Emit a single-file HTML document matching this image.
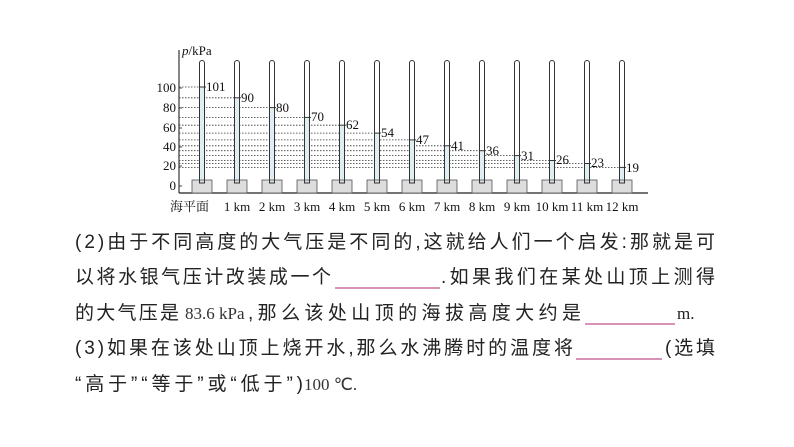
<!DOCTYPE html>
<html><head><meta charset="utf-8"><style>
html,body{margin:0;padding:0;background:#fff;}
svg{display:block;}
.t{font-family:"Liberation Sans","Noto Sans CJK SC",sans-serif;font-size:19px;fill:#222;}
.s{font-family:"Liberation Serif","Noto Serif CJK SC",serif;font-size:13px;fill:#111;}
</style></head><body>
<svg width="794" height="447" viewBox="0 0 794 447" xmlns="http://www.w3.org/2000/svg">
<defs>
<g id="base"><rect x="-10" y="180" width="20" height="13" fill="#ddd" stroke="#555" stroke-width="0.8"/></g>
<path id="tube" d="M-2.5 183 V63 a2.5 2.5 0 0 1 5 0 V183 Z" fill="none" stroke="#333" stroke-width="1"/>
</defs>
<line x1="179" y1="50" x2="179" y2="193" stroke="#444" stroke-width="1.3"/>
<line x1="179" y1="193" x2="648" y2="193" stroke="#222" stroke-width="1.3"/>
<text x="182" y="55" class="s" font-size="14"><tspan font-style="italic">p</tspan>/kPa</text>
<g class="s" text-anchor="end">
<text x="176" y="92">100</text><text x="176" y="112">80</text><text x="176" y="132">60</text>
<text x="176" y="151">40</text><text x="176" y="170">20</text><text x="176" y="190">0</text>
</g>
<g stroke="#444" stroke-width="1">
<line x1="179" y1="88" x2="182" y2="88"/><line x1="179" y1="108" x2="182" y2="108"/><line x1="179" y1="128" x2="182" y2="128"/><line x1="179" y1="147" x2="182" y2="147"/><line x1="179" y1="166" x2="182" y2="166"/><line x1="179" y1="186" x2="182" y2="186"/>
</g>
<g stroke="#333" stroke-width="0.8" stroke-dasharray="1.5,1.5">
<line x1="179" y1="87" x2="199" y2="87"/>
<line x1="179" y1="97.8" x2="234" y2="97.8"/>
<line x1="179" y1="107.6" x2="269" y2="107.6"/>
<line x1="179" y1="117.4" x2="304" y2="117.4"/>
<line x1="179" y1="125.2" x2="339" y2="125.2"/>
<line x1="179" y1="133.1" x2="374" y2="133.1"/>
<line x1="179" y1="139.9" x2="409" y2="139.9"/>
<line x1="179" y1="145.8" x2="444" y2="145.8"/>
<line x1="179" y1="150.7" x2="479" y2="150.7"/>
<line x1="179" y1="155.6" x2="514" y2="155.6"/>
<line x1="179" y1="160.5" x2="549" y2="160.5"/>
<line x1="179" y1="163.5" x2="584" y2="163.5"/>
<line x1="179" y1="167.4" x2="619" y2="167.4"/>
</g>
<g fill="#dfeef2">
<rect x="199.5" y="87" width="5" height="96"/>
<rect x="234.5" y="97.8" width="5" height="85.2"/>
<rect x="269.5" y="107.6" width="5" height="75.4"/>
<rect x="304.5" y="117.4" width="5" height="65.6"/>
<rect x="339.5" y="125.2" width="5" height="57.8"/>
<rect x="374.5" y="133.1" width="5" height="49.9"/>
<rect x="409.5" y="139.9" width="5" height="43.1"/>
<rect x="444.5" y="145.8" width="5" height="37.2"/>
<rect x="479.5" y="150.7" width="5" height="32.3"/>
<rect x="514.5" y="155.6" width="5" height="27.4"/>
<rect x="549.5" y="160.5" width="5" height="22.5"/>
<rect x="584.5" y="163.5" width="5" height="19.5"/>
<rect x="619.5" y="167.4" width="5" height="15.6"/>
</g>
<use href="#base" x="202"/><use href="#base" x="237"/><use href="#base" x="272"/><use href="#base" x="307"/><use href="#base" x="342"/><use href="#base" x="377"/><use href="#base" x="412"/><use href="#base" x="447"/><use href="#base" x="482"/><use href="#base" x="517"/><use href="#base" x="552"/><use href="#base" x="587"/><use href="#base" x="622"/>
<use href="#tube" x="202"/><use href="#tube" x="237"/><use href="#tube" x="272"/><use href="#tube" x="307"/><use href="#tube" x="342"/><use href="#tube" x="377"/><use href="#tube" x="412"/><use href="#tube" x="447"/><use href="#tube" x="482"/><use href="#tube" x="517"/><use href="#tube" x="552"/><use href="#tube" x="587"/><use href="#tube" x="622"/>
<g stroke="#333" stroke-width="1">
<line x1="199.5" y1="87" x2="206" y2="87"/>
<line x1="234.5" y1="97.8" x2="241" y2="97.8"/>
<line x1="269.5" y1="107.6" x2="276" y2="107.6"/>
<line x1="304.5" y1="117.4" x2="311" y2="117.4"/>
<line x1="339.5" y1="125.2" x2="346" y2="125.2"/>
<line x1="374.5" y1="133.1" x2="381" y2="133.1"/>
<line x1="409.5" y1="139.9" x2="416" y2="139.9"/>
<line x1="444.5" y1="145.8" x2="451" y2="145.8"/>
<line x1="479.5" y1="150.7" x2="486" y2="150.7"/>
<line x1="514.5" y1="155.6" x2="521" y2="155.6"/>
<line x1="549.5" y1="160.5" x2="556" y2="160.5"/>
<line x1="584.5" y1="163.5" x2="591" y2="163.5"/>
<line x1="619.5" y1="167.4" x2="626" y2="167.4"/>
</g>
<g class="s" font-size="14">
<text x="206" y="91">101</text>
<text x="241" y="102">90</text>
<text x="276" y="112">80</text>
<text x="311" y="121">70</text>
<text x="346" y="129">62</text>
<text x="381" y="137">54</text>
<text x="416" y="144">47</text>
<text x="451" y="150">41</text>
<text x="486" y="155">36</text>
<text x="521" y="160">31</text>
<text x="556" y="164">26</text>
<text x="591" y="167">23</text>
<text x="626" y="172">19</text>
</g>
<text x="170" y="211" class="s" font-size="13">海平面</text>
<g class="s" font-size="13" text-anchor="middle">
<text x="237" y="211">1 km</text><text x="272" y="211">2 km</text><text x="307" y="211">3 km</text><text x="342" y="211">4 km</text><text x="377" y="211">5 km</text><text x="412" y="211">6 km</text><text x="447" y="211">7 km</text><text x="482" y="211">8 km</text><text x="517" y="211">9 km</text><text x="552" y="211">10 km</text><text x="587" y="211">11 km</text><text x="622" y="211">12 km</text>
</g>
<g class="t">
<text x="75" y="248" textLength="640" lengthAdjust="spacing">(2)由于不同高度的大气压是不同的,这就给人们一个启发:那就是可</text>
<text x="75" y="283" textLength="256" lengthAdjust="spacing">以将水银气压计改装成一个</text>
<text x="441" y="283" textLength="274" lengthAdjust="spacing">.如果我们在某处山顶上测得</text>
<text x="75" y="319" textLength="104" lengthAdjust="spacing">的大气压是</text>
<text x="185" y="319" font-family="Liberation Serif" font-size="17" fill="#333">83.6 kPa</text>
<text x="248" y="319" textLength="333" lengthAdjust="spacing">,那么该处山顶的海拔高度大约是</text>
<text x="677" y="319" font-family="Liberation Serif" font-size="17">m.</text>
<text x="75" y="354" textLength="498" lengthAdjust="spacing">(3)如果在该处山顶上烧开水,那么水沸腾时的温度将</text>
<text x="665" y="354" textLength="50" lengthAdjust="spacing">(选填</text>
<text x="75" y="390" textLength="228" lengthAdjust="spacing">“高于”“等于”或“低于”)</text>
<text x="304" y="390" font-family="Liberation Serif" font-size="17" fill="#333">100 ℃.</text>
</g>
<g stroke="#c0508a" stroke-width="1.2">
<line x1="335" y1="288" x2="440" y2="288"/>
<line x1="585" y1="324" x2="675" y2="324"/>
<line x1="576" y1="359" x2="662" y2="359"/>
</g>
</svg>
</body></html>
